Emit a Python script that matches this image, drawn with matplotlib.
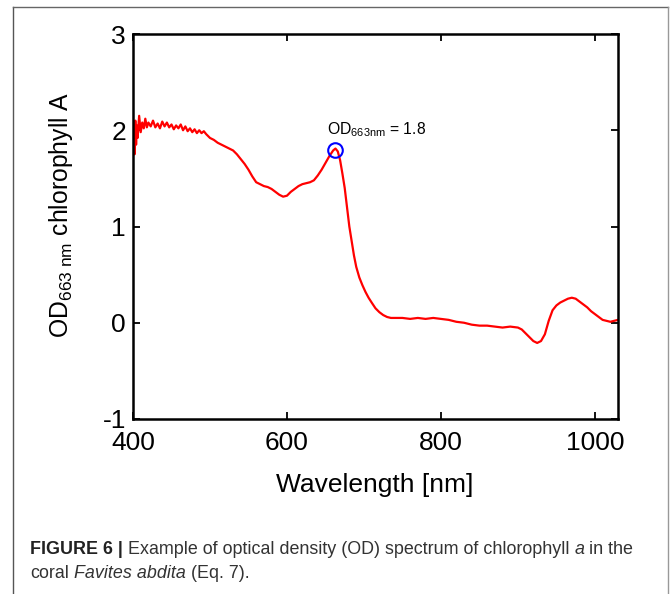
import matplotlib
matplotlib.use("Agg")
import matplotlib.pyplot as plt
from matplotlib import font_manager
from matplotlib.lines import Line2D

# ---------------- data ----------------
wavelength = [400, 401, 402, 403, 404, 405, 406, 408, 410, 412, 414, 416, 418, 420,
              423, 426, 429, 432, 435, 438, 441, 444, 447, 450, 453, 456, 459, 462,
              465, 468, 471, 474, 477, 480, 483, 486, 489, 492, 495, 500, 505, 510,
              515, 520, 525, 530, 535, 540, 545, 550, 555, 560, 565, 570, 575, 580,
              585, 590, 595, 600, 605, 610, 615, 620, 625, 630, 635, 640, 645, 650,
              655, 660, 663, 666, 669, 672, 675, 678, 681, 684, 687, 690, 694, 698,
              702, 706, 710, 715, 720, 725, 730, 735, 740, 750, 760, 770, 780, 790,
              800, 810, 820, 830, 840, 850, 860, 870, 880, 890, 900, 905, 910, 915,
              920, 925, 930, 935, 940, 945, 950, 955, 960, 965, 970, 975, 980, 985,
              990, 995, 1000, 1005, 1010, 1015, 1020, 1025, 1030]
od = [1.80, 2.00, 1.75, 2.10, 1.85, 2.05, 1.92, 2.15, 1.98, 2.08, 2.02, 2.12, 2.03, 2.08,
      2.04, 2.10, 2.03, 2.07, 2.02, 2.09, 2.04, 2.08, 2.03, 2.06, 2.01, 2.05, 2.02, 2.06,
      2.00, 2.04, 1.99, 2.02, 1.98, 2.01, 1.97, 2.00, 1.97, 1.99, 1.96, 1.92, 1.90, 1.87,
      1.85, 1.83, 1.81, 1.79, 1.75, 1.70, 1.65, 1.59, 1.52, 1.46, 1.44, 1.42, 1.41, 1.39,
      1.36, 1.33, 1.31, 1.32, 1.36, 1.39, 1.42, 1.44, 1.45, 1.46, 1.48, 1.53, 1.59, 1.66,
      1.73, 1.79, 1.81, 1.78, 1.69, 1.55, 1.40, 1.20, 1.00, 0.85, 0.70, 0.58, 0.47, 0.39,
      0.32, 0.26, 0.21, 0.15, 0.11, 0.08, 0.06, 0.05, 0.05, 0.05, 0.04, 0.05, 0.04, 0.05,
      0.04, 0.03, 0.01, 0.00, -0.02, -0.03, -0.03, -0.04, -0.05, -0.04, -0.05, -0.07, -0.11, -0.15,
      -0.19, -0.21, -0.19, -0.12, 0.02, 0.13, 0.18, 0.21, 0.23, 0.25, 0.26, 0.25, 0.22, 0.19,
      0.16, 0.12, 0.09, 0.06, 0.03, 0.02, 0.01, 0.02, 0.03]

peak_wl = [663]
peak_od = [1.8]
annot_text = r'OD$_{\mathregular{663nm}}$ = 1.8'

x_ticks = [400, 600, 800, 1000]
y_ticks = [-1, 0, 1, 2, 3]

ylabel = r'OD$_{\mathregular{663\ nm}}$ chlorophyll A'
xlabel = 'Wavelength [nm]'

caption1 = [("FIGURE 6 |", "bold", "normal"),
            ("Example of optical density (OD) spectrum of chlorophyll", "normal", "normal"),
            ("a", "normal", "italic"),
            ("in the", "normal", "normal")]
caption2 = [("coral", "normal", "normal"),
            ("Favites abdita", "normal", "italic"),
            ("(Eq. 7).", "normal", "normal")]

# ---------------- style ----------------
FONT = 'Liberation Sans'
avail = {f.name for f in font_manager.fontManager.ttflist}
CAPFONT = 'Liberation Sans Narrow' if 'Liberation Sans Narrow' in avail else FONT

plt.rcParams['font.family'] = [FONT, 'DejaVu Sans']
plt.rcParams['mathtext.fontset'] = 'custom'
plt.rcParams['mathtext.rm'] = FONT
plt.rcParams['mathtext.it'] = FONT + ':italic'
plt.rcParams['mathtext.bf'] = FONT + ':bold'

W, H = 672, 594
fig = plt.figure(figsize=(W / 100, H / 100), dpi=100)
fig.patch.set_facecolor('white')

L, R, T, B = 133, 618, 34, 419
ax = fig.add_axes([L / W, 1 - B / H, (R - L) / W, (B - T) / H])

ax.plot(wavelength, od, color='#ff0000', lw=1.6)
ax.plot(peak_wl, peak_od, 'o', mfc='none', mec='#0000ff', ms=10.5, mew=1.5)
ax.text(652, 1.96, annot_text, fontsize=11.3, ha='left', va='baseline', color='black')

ax.set_xlim(400, 1030)
ax.set_ylim(-1, 3)
ax.set_xticks(x_ticks)
ax.set_yticks(y_ticks)
ax.set_xticklabels([str(v) for v in x_ticks])
ax.set_yticklabels([str(v) for v in y_ticks])
ax.tick_params(direction='in', length=5, width=1.3, labelsize=19, top=True, right=True,
               color='black')
ax.tick_params(axis='x', pad=9)
ax.tick_params(axis='y', pad=5)
for s in ax.spines.values():
    s.set_linewidth(1.8)
    s.set_color('black')

fig.text(61 / W, 1 - 215 / H, ylabel, rotation=90, fontsize=17.8, ha='center', va='center')
fig.text(375 / W, 1 - 485 / H, xlabel, fontsize=19, ha='center', va='center')

# outer frame
fig.add_artist(Line2D([13 / W, 13 / W], [0, 1 - 7 / H], color='#555555', lw=1.0,
                      transform=fig.transFigure))
fig.add_artist(Line2D([13 / W, 668 / W], [1 - 7 / H, 1 - 7 / H], color='#666666', lw=1.0,
                      transform=fig.transFigure))
fig.add_artist(Line2D([668 / W, 668 / W], [0, 1 - 7 / H], color='#999999', lw=1.0,
                      transform=fig.transFigure))

# caption with mixed styles
renderer = fig.canvas.get_renderer()


def line_width(pieces, size):
    total = 0
    for txt, wgt, sty in pieces:
        t = fig.text(0, 0, txt, fontsize=size, fontweight=wgt, style=sty, family=CAPFONT)
        total += t.get_window_extent(renderer).width
        t.remove()
    t1 = fig.text(0, 0, "a a", fontsize=size, family=CAPFONT)
    t2 = fig.text(0, 0, "aa", fontsize=size, family=CAPFONT)
    gap = t1.get_window_extent(renderer).width - t2.get_window_extent(renderer).width
    t1.remove(); t2.remove()
    return total + gap * (len(pieces) - 1), gap


base = 12.0
w0, _ = line_width(caption1, base)
capsize = base * (602 / w0)
capsize = min(capsize, 13.0)
_, gap = line_width(caption1, capsize)


def draw_line(pieces, x0, ybase):
    x = x0
    for txt, wgt, sty in pieces:
        col = '#222222' if wgt == 'bold' else '#333333'
        t = fig.text(x / W, 1 - ybase / H, txt, fontsize=capsize, fontweight=wgt, style=sty,
                     family=CAPFONT, color=col, va='baseline', ha='left')
        x += t.get_window_extent(renderer).width + gap


draw_line(caption1, 30, 554)
draw_line(caption2, 30, 578)

fig.savefig('out.png', dpi=100, facecolor='white')
